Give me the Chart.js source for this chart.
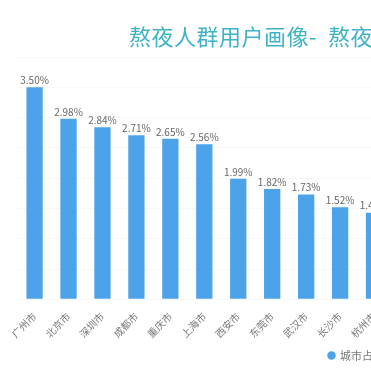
<!DOCTYPE html>
<html>
<head>
<meta charset="utf-8">
<script src="https://cdn.jsdelivr.net/npm/chart.js@4.4.1/dist/chart.umd.min.js"></script>
<style>
    html, body { margin: 0; padding: 0; background: #fff; overflow: hidden; }
    #wrap { position: relative; width: 392px; height: 371px; }
</style>
</head>
<body>
<div id="wrap"><canvas id="cityChart"></canvas></div>
<script>
    // Ciudades y porcentajes
    const cities = ['广州市', '北京市', '深圳市', '成都市', '重庆市', '上海市', '西安市', '东莞市', '武汉市', '长沙市', '杭州市'];
    const shares = [3.50, 2.98, 2.84, 2.71, 2.65, 2.56, 1.99, 1.82, 1.73, 1.52, 1.43];
    const seriesName = '城市占比';
    const titleText = '熬夜人群用户画像-  熬夜城市';

    const barColor = '#4da3ea';

    // Título y etiquetas de valor dibujados a mano
    const labelsPlugin = {
        id: 'barLabels',
        afterDatasetsDraw(chart) {
            const ctx = chart.ctx;
            ctx.save();
            ctx.font = '22px "Noto Sans CJK SC"';
            ctx.letterSpacing = '0.5px';
            ctx.fillStyle = '#3fb3c6';
            ctx.textBaseline = 'middle';
            ctx.textAlign = 'left';
            ctx.fillText(titleText, 129, 37);
            ctx.letterSpacing = '0px';

            ctx.font = '10px "Noto Sans CJK SC"';
            ctx.fillStyle = '#666';
            ctx.textAlign = 'center';
            ctx.textBaseline = 'bottom';
            chart.getDatasetMeta(0).data.forEach((bar, i) => {
                ctx.fillText(shares[i].toFixed(2) + '%', bar.x, bar.y - 2);
            });
            ctx.restore();
        }
    };

    const ctx = document.getElementById('cityChart').getContext('2d');
    new Chart(ctx, {
        type: 'bar',
        data: {
            labels: cities,
            datasets: [{
                label: seriesName,
                data: shares,
                backgroundColor: barColor,
                borderWidth: 0,
                categoryPercentage: 1,
                barPercentage: 0.48
            }]
        },
        options: {
            responsive: true,
            maintainAspectRatio: false,
            animation: false,
            layout: { padding: { top: 57, left: 17.6, right: 1, bottom: 0 } },
            plugins: {
                title: { display: false },
                tooltip: { enabled: false },
                legend: {
                    position: 'bottom',
                    align: 'end',
                    labels: {
                        usePointStyle: true,
                        pointStyle: 'circle',
                        boxWidth: 6,
                        boxHeight: 6,
                        color: '#777',
                        font: { size: 11, family: '"Noto Sans CJK SC"' },
                        padding: 7
                    }
                }
            },
            scales: {
                y: {
                    min: 0,
                    max: 4,
                    ticks: { display: false, stepSize: 0.5 },
                    grid: { color: '#f7f7f7', drawTicks: false },
                    border: { display: false }
                },
                x: {
                    grid: { display: false },
                    border: { display: false },
                    ticks: {
                        autoSkip: false,
                        maxRotation: 45,
                        minRotation: 45,
                        color: '#777',
                        font: { size: 10, family: '"Noto Sans CJK SC"' }
                    }
                }
            }
        },
        plugins: [labelsPlugin]
    });
</script>
</body>
</html>
